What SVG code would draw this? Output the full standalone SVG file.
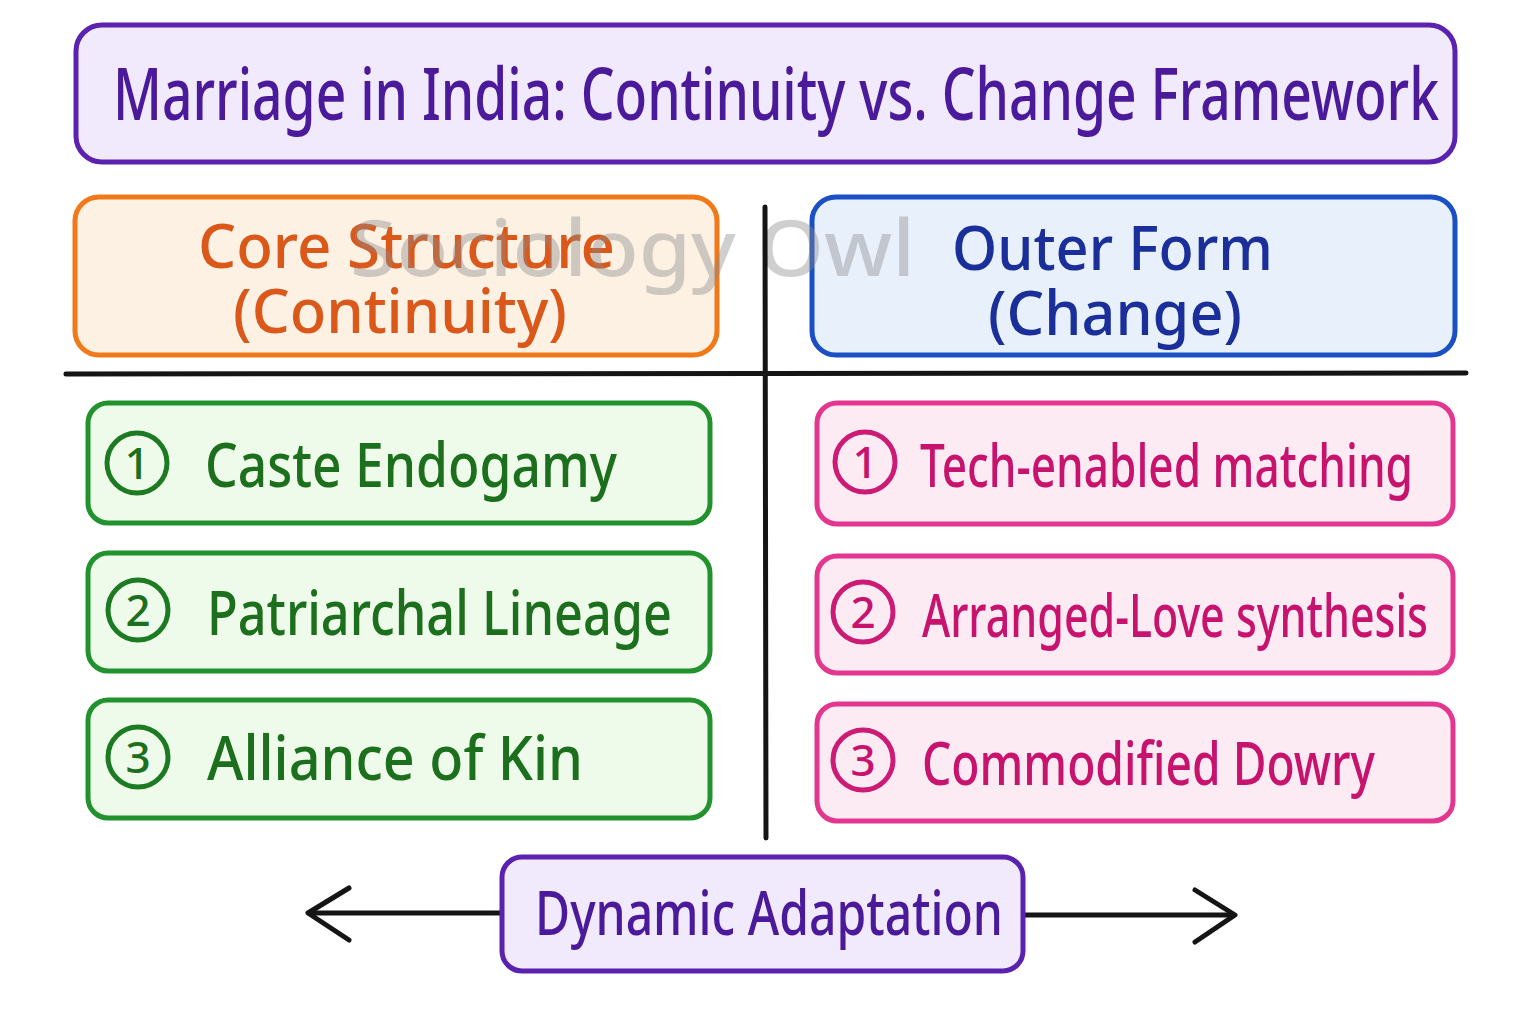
<svg xmlns="http://www.w3.org/2000/svg" width="1536" height="1024" viewBox="0 0 1536 1024">
<style>
text{font-family:"Noto Sans","Open Sans","Liberation Sans",sans-serif;font-weight:500;}
.box{stroke-width:5;}
.title{fill:#f1eafc;stroke:#5b22b0;}
.core{fill:#fdf1e4;stroke:#f07a1a;}
.outer{fill:#e8f0fc;stroke:#1b4fc4;}
.green{fill:#effbea;stroke:#22922e;}
.pink{fill:#fdebf3;stroke:#e3378f;}
.gt{fill:#1c6f1c;font-size:62px;}
.pt{fill:#c8136e;font-size:60px;}
.gc{fill:none;stroke:#1c7a22;stroke-width:5;}
.pc{fill:none;stroke:#cc1a75;stroke-width:5;}
.gn{fill:#1c6f1c;font-size:44px;text-anchor:middle;}
.pn{fill:#c8136e;font-size:44px;text-anchor:middle;}
.line{stroke:#151515;stroke-width:5;stroke-linecap:round;fill:none;}
</style>
<rect width="1536" height="1024" fill="#ffffff"/>

<g id="title">
<rect class="box title" x="76" y="25" width="1379" height="137" rx="26"/>
<text x="113" y="120" font-size="72" fill="#4b1a9a" textLength="1326" lengthAdjust="spacingAndGlyphs">Marriage in India: Continuity vs. Change Framework</text>
</g>

<g id="core-structure">
<rect class="box core" x="75" y="197" width="642" height="158" rx="24"/>
<text x="198" y="268" font-size="62" fill="#d9581a" textLength="417" lengthAdjust="spacingAndGlyphs">Core Structure</text>
<text x="233" y="333" font-size="62" fill="#d9581a" textLength="334" lengthAdjust="spacingAndGlyphs">(Continuity)</text>
</g>

<g id="outer-form">
<rect class="box outer" x="812" y="197" width="643" height="158" rx="24"/>
<text x="952" y="270" font-size="62" fill="#1a2f9a" textLength="321" lengthAdjust="spacingAndGlyphs">Outer Form</text>
<text x="988" y="335" font-size="62" fill="#1a2f9a" textLength="254" lengthAdjust="spacingAndGlyphs">(Change)</text>
</g>

<text x="350" y="276" font-size="78" font-weight="bold" fill="#8a8a8a" opacity="0.4" textLength="565" lengthAdjust="spacingAndGlyphs" font-family="Liberation Sans, sans-serif">Sociology Owl</text>

<g id="connectors">
<line class="line" x1="66" y1="374" x2="1466" y2="373"/>
<line class="line" x1="765" y1="207" x2="766" y2="838"/>
<line class="line" x1="500" y1="913" x2="310" y2="913" stroke-width="6"/>
<polyline class="line" points="349,888 308,913 349,940" stroke-width="7" stroke-linejoin="round"/>
<line class="line" x1="1025" y1="915" x2="1233" y2="915" stroke-width="6"/>
<polyline class="line" points="1195,890 1235,915 1195,942" stroke-width="7" stroke-linejoin="round"/>
</g>

<g id="caste-endogamy">
<rect class="box green" x="88" y="403" width="622" height="120" rx="20"/>
<circle class="gc" cx="137" cy="463" r="30"/>
<text class="gn" x="137" y="479">1</text>
<text class="gt" x="205" y="487" textLength="412" lengthAdjust="spacingAndGlyphs">Caste Endogamy</text>
</g>

<g id="patriarchal-lineage">
<rect class="box green" x="88" y="553" width="622" height="118" rx="20"/>
<circle class="gc" cx="138" cy="610" r="30"/>
<text class="gn" x="138" y="626">2</text>
<text class="gt" x="207" y="635" textLength="465" lengthAdjust="spacingAndGlyphs">Patriarchal Lineage</text>
</g>

<g id="alliance-of-kin">
<rect class="box green" x="88" y="700" width="622" height="118" rx="20"/>
<circle class="gc" cx="138" cy="757" r="30"/>
<text class="gn" x="138" y="773">3</text>
<text class="gt" x="207" y="780" textLength="376" lengthAdjust="spacingAndGlyphs">Alliance of Kin</text>
</g>

<g id="tech-enabled-matching">
<rect class="box pink" x="817" y="403" width="636" height="121" rx="20"/>
<circle class="pc" cx="865" cy="462" r="30"/>
<text class="pn" x="865" y="478">1</text>
<text class="pt" x="920" y="487" textLength="493" lengthAdjust="spacingAndGlyphs">Tech-enabled matching</text>
</g>

<g id="arranged-love-synthesis">
<rect class="box pink" x="817" y="556" width="636" height="117" rx="20"/>
<circle class="pc" cx="863" cy="612" r="30"/>
<text class="pn" x="863" y="628">2</text>
<text class="pt" x="922" y="637" textLength="506" lengthAdjust="spacingAndGlyphs">Arranged-Love synthesis</text>
</g>

<g id="commodified-dowry">
<rect class="box pink" x="817" y="704" width="636" height="117" rx="20"/>
<circle class="pc" cx="863" cy="760" r="30"/>
<text class="pn" x="863" y="776">3</text>
<text class="pt" x="922" y="785" textLength="453" lengthAdjust="spacingAndGlyphs">Commodified Dowry</text>
</g>

<g id="dynamic-adaptation">
<rect class="box title" x="502" y="857" width="521" height="114" rx="20"/>
<text x="535" y="935" font-size="62" fill="#4b1a9a" textLength="468" lengthAdjust="spacingAndGlyphs">Dynamic Adaptation</text>
</g>
</svg>
